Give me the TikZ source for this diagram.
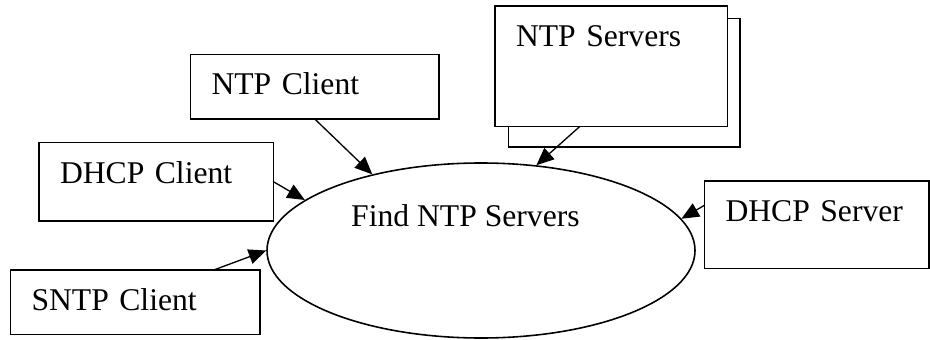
\documentclass[tikz,border=0pt]{standalone}
\usepackage{fontspec}
\setmainfont{Liberation Serif}
\usetikzlibrary{shapes.geometric,arrows.meta}

\begin{document}
\begin{tikzpicture}
  [
    every node/.style={font=\fontsize{18}{21.6}\selectfont},
    flow/.style={line width=0.75pt, -{Triangle[length=0.35cm, width=0.3cm]}},
    box/.style={draw, line width=0.9pt, anchor=north west, align=left,
      inner xsep=0.42cm, inner ysep=0pt, outer sep=0pt, text height=0.81cm},
    stack/.style={draw, line width=0.9pt, anchor=north west, inner sep=0pt, outer sep=0pt},
    task/.style={draw, ellipse, line width=0.9pt, inner sep=0pt}
  ]
  \useasboundingbox (0, 0) rectangle (18.6, 6.78);

  \node[task, minimum width=8.56cm, minimum height=3.5cm] (find) at (9.62, 1.77) {};
  \node[anchor=base west] (findtext) at (6.9, 2.25) {Find NTP Servers};

  \node[box, text width=4.13cm, text depth=0.48cm] (ntpc) at (3.81, 5.69) {NTP Client};
  \node[box, text width=3.85cm, text depth=0.76cm] (dhcpc) at (0.78, 3.93) {DHCP Client};
  \node[box, text width=4.15cm, text depth=0.48cm] (sntpc) at (0.21, 1.38) {SNTP Client};

  \node[stack, minimum width=4.63cm, minimum height=2.57cm] (ntpsback) at (10.17, 6.41) {};
  \node[box, fill=white, text width=3.81cm, text depth=1.60cm] (ntps) at (9.90, 6.66) {NTP Servers};
  \node[box, text width=3.65cm, text depth=0.94cm] (dhcps) at (14.09, 3.16) {DHCP Server};

  \draw[flow] (ntpc.south) -- (find.145);
  \draw[flow] (dhcpc.east) -- (find.164);
  \draw[flow] ([xshift=1.57cm]sntpc.north) -- (find.west);
  \draw[flow] ([xshift=-0.63cm]ntps.south) -- (find.57);
  \draw[flow] ([yshift=0.39cm]dhcps.west) -- (find.9);
\end{tikzpicture}
\end{document}
